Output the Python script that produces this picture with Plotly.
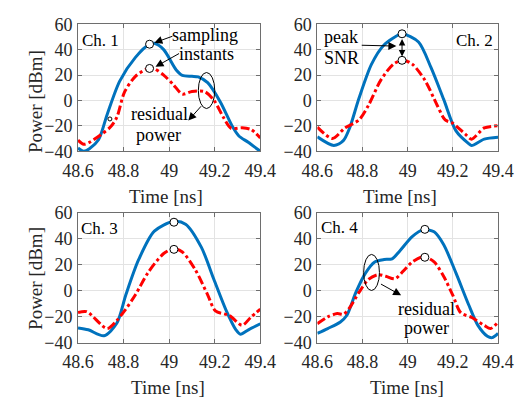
import plotly.graph_objects as go
from plotly.subplots import make_subplots

# ---------------- data ----------------
ch1_blue_t = [48.6, 48.625, 48.65, 48.69, 48.728, 48.783, 48.852, 48.914, 48.935, 48.976, 49.031, 49.058, 49.1, 49.127, 49.169, 49.224, 49.279, 49.306, 49.347, 49.4]
ch1_blue_p = [-37.5, -40, -38, -31, -11, 15.2, 33.9, 44.3, 45, 40, 24, 19.7, 19, 18.5, 14, -1, -21, -28, -33, -40]
ch1_red_t = [48.6, 48.625, 48.65, 48.7, 48.742, 48.77, 48.804, 48.852, 48.914, 48.935, 48.976, 49.017, 49.058, 49.1, 49.155, 49.196, 49.237, 49.272, 49.32, 49.36, 49.4]
ch1_red_p = [-31.3, -34.5, -33, -27, -21, -13.4, 6.5, 19, 25.7, 25, 20, 12.7, 5, 7, 7, 0.3, -13, -22, -21.6, -23, -29.5]

ch2_blue_t = [48.6, 48.673, 48.715, 48.743, 48.784, 48.84, 48.895, 48.964, 48.979, 49.048, 49.103, 49.159, 49.214, 49.27, 49.283, 49.339, 49.4]
ch2_blue_p = [-28.7, -35.5, -31.7, -21.7, 1.5, 28.6, 43.7, 52, 52.5, 46, 26, 1, -24, -34, -35.5, -30.5, -29]
ch2_red_t = [48.6, 48.667, 48.722, 48.784, 48.826, 48.881, 48.937, 48.979, 49.02, 49.076, 49.131, 49.166, 49.2, 49.256, 49.283, 49.339, 49.4]
ch2_red_p = [-21, -30, -21.7, -15.4, -4, 16, 28.6, 31.6, 28.6, 16, -4, -15.4, -18, -26.7, -30.5, -21.7, -20]

ch3_blue_t = [48.6, 48.645, 48.714, 48.77, 48.81, 48.866, 48.935, 49.017, 49.072, 49.141, 49.196, 49.251, 49.293, 49.313, 49.348, 49.4]
ch3_blue_p = [-28.5, -30, -34.6, -25, -3, 24, 46, 53.4, 51.4, 33.7, 9, -15.4, -30, -33.4, -30, -25.3]
ch3_red_t = [48.6, 48.638, 48.728, 48.77, 48.804, 48.852, 48.907, 48.976, 49.021, 49.058, 49.114, 49.169, 49.203, 49.265, 49.32, 49.36, 49.4]
ch3_red_p = [-16.7, -16, -29, -22.8, -15.4, -3, 14, 28.8, 32.5, 30, 16.5, -3, -15.4, -19, -26.5, -20, -14]

ch4_blue_t = [48.6, 48.646, 48.702, 48.73, 48.771, 48.813, 48.854, 48.896, 48.931, 48.965, 49.02, 49.069, 49.117, 49.159, 49.214, 49.27, 49.311, 49.353, 49.374, 49.4]
ch4_blue_p = [-32.7, -29, -24, -19, -1, 13.7, 22.3, 24.2, 24.7, 30.8, 41.8, 47.2, 45.5, 35.7, 13.7, -10.7, -26.6, -35, -36, -32.7]
ch4_red_t = [48.6, 48.646, 48.688, 48.716, 48.743, 48.785, 48.826, 48.868, 48.903, 48.944, 48.979, 49.02, 49.071, 49.117, 49.159, 49.2, 49.235, 49.284, 49.339, 49.367, 49.4]
ch4_red_p = [-25.3, -20, -17.5, -18, -13, -1, 8.8, 12.5, 11.3, 9.3, 15, 22.3, 26.4, 22.3, 11.3, -3.4, -16.8, -20.5, -26.6, -29, -24]

# sampling instants (t, blue peak, red peak) per channel
sample_t = [48.914, 48.975, 49.021, 49.076]
sample_blue = [44.3, 52.5, 52.9, 47.4]
sample_red = [25.2, 31.6, 32.0, 25.9]

channel_labels = ["Ch. 1", "Ch. 2", "Ch. 3", "Ch. 4"]
x_ticks = [48.6, 48.8, 49.0, 49.2, 49.4]
x_ticktext = ["48.6", "48.8", "49", "49.2", "49.4"]
y_ticks = [-40, -20, 0, 20, 40, 60]

BLUE = "#0072BD"
RED = "#FF0000"
FONT = "Liberation Serif"

fig = make_subplots(rows=2, cols=2)

series = [
    (ch1_blue_t, ch1_blue_p, ch1_red_t, ch1_red_p),
    (ch2_blue_t, ch2_blue_p, ch2_red_t, ch2_red_p),
    (ch3_blue_t, ch3_blue_p, ch3_red_t, ch3_red_p),
    (ch4_blue_t, ch4_blue_p, ch4_red_t, ch4_red_p),
]
pos = [(1, 1), (1, 2), (2, 1), (2, 2)]

for i, (bt, bp, rt, rp) in enumerate(series):
    r, c = pos[i]
    fig.add_trace(go.Scatter(x=bt, y=bp, mode="lines", line=dict(color=BLUE, width=3, shape="spline", smoothing=0.8),
                             showlegend=False, hoverinfo="skip"), row=r, col=c)
    fig.add_trace(go.Scatter(x=rt, y=rp, mode="lines", line=dict(color=RED, width=3, dash="dashdot", shape="spline", smoothing=0.8),
                             showlegend=False, hoverinfo="skip"), row=r, col=c)
    fig.add_trace(go.Scatter(x=[sample_t[i], sample_t[i]], y=[sample_blue[i], sample_red[i]], mode="markers",
                             marker=dict(symbol="circle", size=8, color="white", line=dict(color="black", width=1)),
                             showlegend=False, hoverinfo="skip"), row=r, col=c)

# tiny circle artefact on Ch. 1
fig.add_trace(go.Scatter(x=[48.74], y=[-14.6], mode="markers",
                         marker=dict(symbol="circle-open", size=4, color="black", line=dict(width=1)),
                         showlegend=False, hoverinfo="skip"), row=1, col=1)

# domains
xd_left = [66 / 530, 260 / 530]
xd_right = [320.7 / 530, 513 / 530]
yd_top = [1 - 148.5 / 407, 1 - 15 / 407]
yd_bot = [1 - 350 / 407, 1 - 213.5 / 407]
doms = {1: (xd_left, yd_top), 2: (xd_right, yd_top), 3: (xd_left, yd_bot), 4: (xd_right, yd_bot)}

axis_common = dict(showgrid=True, gridcolor="#e3e3e3", gridwidth=1, showline=True, linecolor="#6e6e6e", linewidth=1,
                   mirror="ticks", ticks="inside", ticklen=4, tickcolor="#6e6e6e", zeroline=False,
                   tickfont=dict(family=FONT, size=18, color="#262626"))
for k in range(1, 5):
    xs = "xaxis" if k == 1 else f"xaxis{k}"
    ys = "yaxis" if k == 1 else f"yaxis{k}"
    fig.layout[xs].update(domain=doms[k][0], range=[48.6, 49.4], tickvals=x_ticks, ticktext=x_ticktext,
                          ticklabelstandoff=3, **axis_common)
    fig.layout[ys].update(domain=doms[k][1], range=[-40, 60], tickvals=y_ticks, ticklabelstandoff=1, **axis_common)

ann = []
txt = dict(family=FONT, size=18, color="black")
# axis titles
for xc, yc in [(160, 196), (409, 196), (161.7, 397), (415.8, 397)]:
    ann.append(dict(xref="paper", yref="paper", x=xc / 530, y=1 - yc / 407, text="Time [ns]", showarrow=False,
                    font=dict(family=FONT, size=19, color="#262626"), xanchor="center", yanchor="middle"))
for yc in [96, 282]:
    ann.append(dict(xref="paper", yref="paper", x=20 / 530, y=1 - yc / 407, text="Power [dBm]", showarrow=False,
                    textangle=-90, font=dict(family=FONT, size=19, color="#262626"), xanchor="center", yanchor="middle"))

# channel labels
ch_pos = [("x", "y", 48.699, 47.3), ("x2", "y2", 49.297, 47.5), ("x3", "y3", 48.695, 48.4), ("x4", "y4", 48.697, 49.2)]
for lab, (xr, yr, xx, yy) in zip(channel_labels, ch_pos):
    ann.append(dict(xref=xr, yref=yr, x=xx, y=yy, text=lab, showarrow=False, font=dict(family=FONT, size=17, color="black")))

# Ch. 1 texts and arrows
ann.append(dict(xref="x", yref="y", x=49.157, y=51.8, text="sampling", showarrow=False, font=txt))
ann.append(dict(xref="x", yref="y", x=49.165, y=36.3, text="instants", showarrow=False, font=txt))
ann.append(dict(xref="x", yref="y", x=48.935, y=45.4, ax=49.021, ay=51, axref="x", ayref="y", text="",
                showarrow=True, arrowhead=2, arrowsize=1.6, arrowwidth=1, arrowcolor="black"))
ann.append(dict(xref="x", yref="y", x=48.94, y=26.5, ax=49.05, ay=37.6, axref="x", ayref="y", text="",
                showarrow=True, arrowhead=2, arrowsize=1.6, arrowwidth=1, arrowcolor="black"))
ann.append(dict(xref="x", yref="y", x=49.084, y=-15.9, ax=49.146, ay=-3.4, axref="x", ayref="y", text="",
                showarrow=True, arrowhead=2, arrowsize=1.6, arrowwidth=1, arrowcolor="black"))
ann.append(dict(xref="x", yref="y", x=48.959, y=-10.9, text="residual", showarrow=False, font=txt))
ann.append(dict(xref="x", yref="y", x=48.955, y=-27.3, text="power", showarrow=False, font=txt))

# Ch. 2 texts and arrows
ann.append(dict(xref="x2", yref="y2", x=48.705, y=50, text="peak", showarrow=False, font=txt))
ann.append(dict(xref="x2", yref="y2", x=48.705, y=33.8, text="SNR", showarrow=False, font=txt))
ann.append(dict(xref="x2", yref="y2", x=48.95, y=42.8, ax=48.79, ay=43.5, axref="x2", ayref="y2", text="",
                showarrow=True, arrowhead=2, arrowsize=1.6, arrowwidth=1, arrowcolor="black"))
ann.append(dict(xref="x2", yref="y2", x=sample_t[1], y=sample_red[1] + 3, ax=sample_t[1], ay=sample_blue[1] - 3,
                axref="x2", ayref="y2", text="", showarrow=True, arrowhead=2, startarrowhead=2, arrowside="end+start",
                arrowsize=1.3, startarrowsize=1.3, arrowwidth=1, arrowcolor="black"))

# Ch. 4 texts and arrows
ann.append(dict(xref="x4", yref="y4", x=48.971, y=-3.4, ax=48.875, ay=5.9, axref="x4", ayref="y4", text="",
                showarrow=True, arrowhead=2, arrowsize=1.6, arrowwidth=1, arrowcolor="black"))
ann.append(dict(xref="x4", yref="y4", x=49.083, y=-14.3, text="residual", showarrow=False, font=txt))
ann.append(dict(xref="x4", yref="y4", x=49.083, y=-28.9, text="power", showarrow=False, font=txt))

fig.update_layout(annotations=ann)

# ellipses marking residual power
fig.add_shape(type="circle", xref="x", yref="y", x0=49.128, x1=49.200, y0=-6.4, y1=22.0,
              line=dict(color="black", width=1))
fig.add_shape(type="circle", xref="x4", yref="y4", x0=48.805, x1=48.875, y0=0.3, y1=28.1,
              line=dict(color="black", width=1))

fig.update_layout(width=530, height=407, margin=dict(l=0, r=0, t=0, b=0),
                  paper_bgcolor="white", plot_bgcolor="white", showlegend=False)

fig.write_html("out.html")
